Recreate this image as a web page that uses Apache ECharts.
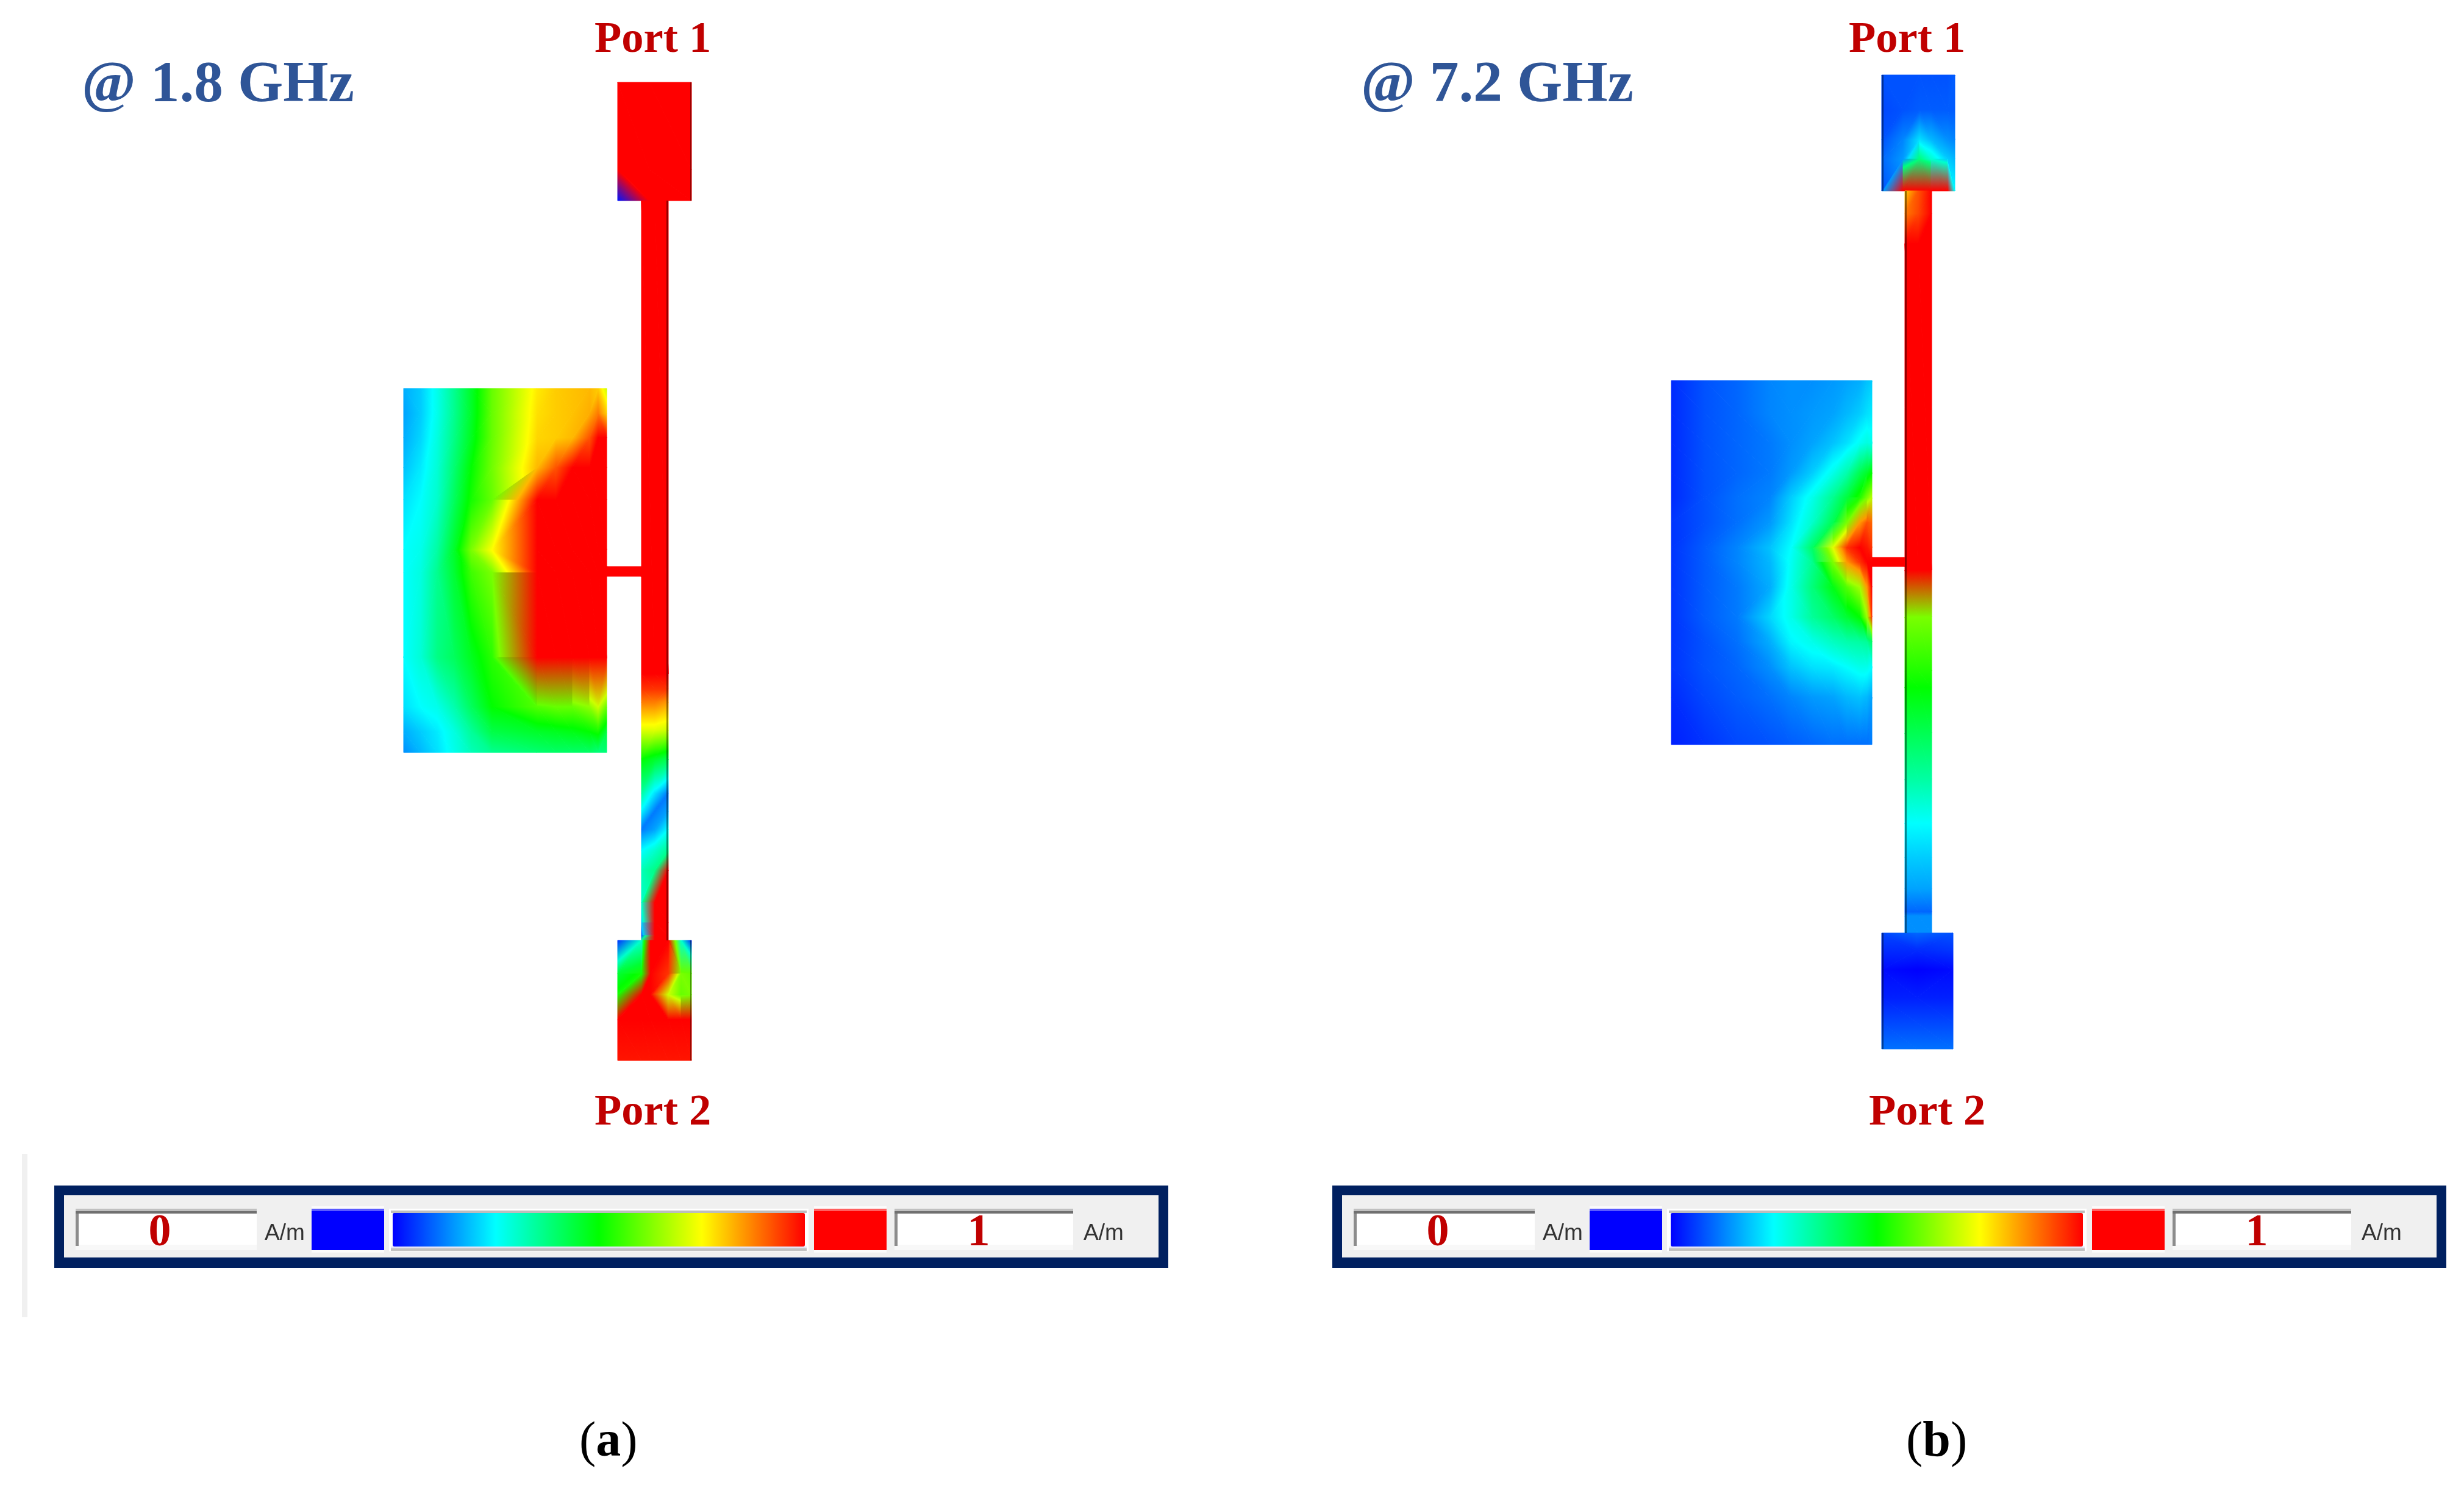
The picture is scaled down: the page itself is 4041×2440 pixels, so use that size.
<!DOCTYPE html>
<html>
<head>
<meta charset="utf-8">
<title>Surface current at 1.8 GHz and 7.2 GHz</title>
<script src="https://cdn.jsdelivr.net/npm/echarts@6/dist/echarts.min.js"></script>
<style>
    html, body { margin: 0; background: #fff; }
    #chart { width: 4041px; height: 2440px; }
</style>
</head>
<body>
<div id="chart"></div>
<script>
// colour scale of the solver, 0..1 A/m
const rampColors = ['#0000ff', '#00ffff', '#00ff00', '#ffff00', '#ff0000'];
const freqLabels = ['@ 1.8 GHz', '@ 7.2 GHz'];
const portLabels = ['Port 1', 'Port 2'];
const scaleLabels = ['0', '1'];
const unitLabel = 'A/m';

// field values read at mesh nodes, model x / y are along the layout
// ---- (a) 1.8 GHz
const padTopAX = [351, 403, 472];
const padTopAY = [0, 143, 194];
const padTopA = [
    [1, 1, 1],
    [1, 1, 1],
    [0.02, 1, 1]
];
const lineAX = [390, 412, 434];
const lineAY = [194, 970, 995, 1016, 1062, 1110, 1166, 1195, 1225, 1260, 1292, 1345, 1378, 1399, 1407];
const lineA = [
    [1, 1, 1],
    [1, 1, 1],
    [0.95, 0.95, 0.95],
    [0.88, 0.88, 0.85],
    [0.72, 0.72, 0.7],
    [0.5, 0.46, 0.42],
    [0.34, 0.22, 0.12],
    [0.24, 0.12, 0.16],
    [0.12, 0.16, 0.25],
    [0.25, 0.3, 0.36],
    [0.32, 0.37, 1],
    [0.3, 1, 1],
    [0.2, 1, 1],
    [0.08, 1, 1],
    [0.35, 1, 1]
];
const stubAX = [333, 390];
const stubAY = [794, 810];
const stubA = [[1, 1], [1, 1]];
const padBottomAX = [351, 390, 405, 434, 455, 472];
const padBottomAY = [1407, 1462, 1496, 1537, 1604];
const padBottomA = [
    [0.05, 0.3, 1, 1, 0.3, 0.05],
    [0.45, 0.52, 1, 0.95, 0.62, 0.6],
    [0.52, 1, 1, 0.7, 0.6, 0.62],
    [1, 1, 1, 1, 1, 1],
    [0.98, 0.98, 0.98, 0.98, 0.98, 0.98]
];
const patchAX = [0, 28, 55, 83, 111, 145, 219, 250, 277, 305, 319, 333];
const patchAY = [502, 543, 583, 632, 685, 767, 804, 943, 1024, 1065, 1099];
const patchA = [
    [0.17, 0.2, 0.27, 0.36, 0.46, 0.6, 0.77, 0.8, 0.81, 0.82, 0.8, 0.7],
    [0.16, 0.2, 0.27, 0.36, 0.46, 0.6, 0.78, 0.8, 0.81, 0.83, 0.88, 0.8],
    [0.17, 0.21, 0.28, 0.37, 0.47, 0.6, 0.79, 0.8, 0.82, 0.92, 1, 1],
    [0.19, 0.23, 0.29, 0.39, 0.5, 0.61, 0.82, 0.92, 1, 1, 1, 1],
    [0.22, 0.25, 0.3, 0.41, 0.52, 0.6, 1, 1, 1, 1, 1, 1],
    [0.25, 0.27, 0.34, 0.46, 0.62, 0.75, 1, 1, 1, 1, 1, 1],
    [0.25, 0.28, 0.36, 0.45, 0.56, 0.62, 1, 1, 1, 1, 1, 1],
    [0.25, 0.29, 0.37, 0.41, 0.47, 0.54, 1, 1, 1, 1, 1, 1],
    [0.22, 0.25, 0.27, 0.33, 0.41, 0.5, 0.58, 0.6, 0.6, 0.64, 0.7, 0.6],
    [0.17, 0.2, 0.23, 0.28, 0.35, 0.43, 0.46, 0.47, 0.48, 0.5, 0.52, 0.44],
    [0.14, 0.18, 0.22, 0.27, 0.32, 0.36, 0.39, 0.4, 0.4, 0.4, 0.38, 0.38]
];

// ---- (b) 7.2 GHz
const padTopBX = [345, 380, 407, 426, 453, 465];
const padTopBY = [0, 57, 106, 138, 190];
const padTopB = [
    [0.08, 0.08, 0.08, 0.08, 0.08, 0.09],
    [0.07, 0.08, 0.09, 0.09, 0.09, 0.09],
    [0.08, 0.13, 0.22, 0.18, 0.14, 0.13],
    [0.1, 0.15, 0.38, 0.3, 0.2, 0.18],
    [0.08, 1, 1, 1, 1, 0.25]
];
const lineBX = [383, 405, 427];
const lineBY = [190, 227, 277, 812, 889, 977, 1004, 1079, 1155, 1227, 1283, 1334, 1372, 1379, 1407];
const lineB = [
    [0.8, 0.92, 1],
    [0.88, 0.93, 1],
    [1, 1, 1],
    [1, 1, 1],
    [0.62, 0.62, 0.62],
    [0.53, 0.53, 0.53],
    [0.5, 0.5, 0.5],
    [0.42, 0.42, 0.42],
    [0.34, 0.34, 0.34],
    [0.25, 0.25, 0.25],
    [0.2, 0.2, 0.2],
    [0.16, 0.16, 0.16],
    [0.1, 0.1, 0.1],
    [0.14, 0.14, 0.14],
    [0.14, 0.14, 0.14]
];
const stubBX = [329, 383];
const stubBY = [791, 806];
const stubB = [[1, 1], [1, 1]];
const padBottomBX = [345, 403, 462];
const padBottomBY = [1407, 1436, 1467, 1513, 1554, 1597];
const padBottomB = [
    [0.07, 0.1, 0.08],
    [0.04, 0.04, 0.05],
    [0.01, 0, 0.01],
    [0.03, 0.03, 0.03],
    [0.07, 0.07, 0.07],
    [0.11, 0.11, 0.11]
];
const patchBX = [0, 55, 108, 162, 196, 231, 265, 288, 309, 321, 329];
const patchBY = [501, 555, 603, 652, 693, 734, 775, 799, 840, 889, 930, 971, 1020, 1098];
const patchB = [
    [0.04, 0.08, 0.1, 0.13, 0.14, 0.14, 0.15, 0.16, 0.17, 0.19, 0.2],
    [0.04, 0.08, 0.1, 0.13, 0.14, 0.15, 0.16, 0.18, 0.2, 0.22, 0.23],
    [0.04, 0.08, 0.1, 0.12, 0.14, 0.16, 0.19, 0.22, 0.26, 0.28, 0.27],
    [0.04, 0.08, 0.1, 0.12, 0.15, 0.2, 0.27, 0.33, 0.42, 0.46, 0.5],
    [0.04, 0.08, 0.11, 0.13, 0.2, 0.27, 0.36, 0.44, 0.53, 0.62, 0.68],
    [0.05, 0.08, 0.11, 0.15, 0.22, 0.3, 0.42, 0.62, 0.85, 0.92, 0.9],
    [0.05, 0.09, 0.13, 0.19, 0.25, 0.4, 0.72, 0.95, 1, 0.98, 0.95],
    [0.05, 0.09, 0.13, 0.18, 0.26, 0.36, 0.62, 0.85, 0.95, 1, 1],
    [0.05, 0.09, 0.12, 0.17, 0.27, 0.38, 0.48, 0.58, 0.66, 0.85, 1],
    [0.05, 0.09, 0.12, 0.21, 0.27, 0.35, 0.4, 0.45, 0.5, 0.65, 0.95],
    [0.05, 0.08, 0.11, 0.17, 0.24, 0.27, 0.31, 0.33, 0.34, 0.35, 0.4],
    [0.05, 0.08, 0.1, 0.14, 0.19, 0.22, 0.23, 0.25, 0.27, 0.27, 0.25],
    [0.04, 0.07, 0.09, 0.11, 0.13, 0.15, 0.16, 0.18, 0.19, 0.18, 0.16],
    [0.03, 0.05, 0.07, 0.08, 0.09, 0.1, 0.11, 0.11, 0.11, 0.11, 0.12]
];

// dark shaded side of the strip: x0, x1, y0, y1
const edgesA = [[431, 434, 194, 1407], [470, 472, 0, 194], [470, 472, 1407, 1604]];
const edgesB = [[383, 386, 190, 1407], [345, 348, 0, 190], [345, 348, 1407, 1597]];

const serif = '"Liberation Serif"';

function rgbOf(hex) {
    return [1, 3, 5].map(function (i) { return parseInt(hex.substr(i, 2), 16); });
}
const rampRgb = rampColors.map(rgbOf);

function colorAt(v) {
    const t = Math.min(Math.max(v, 0), 1) * (rampRgb.length - 1);
    const i = Math.min(Math.floor(t), rampRgb.length - 2);
    const c = rampRgb[i].map(function (a, k) { return Math.round(a + (rampRgb[i + 1][k] - a) * (t - i)); });
    return 'rgb(' + c.join(',') + ')';
}

// paint one triangle: the value is linear over it, so a linear gradient along its slope is exact.
// steep triangles (range over mixStep) blend straight between corner colours, as the solver plot does
function triangle(p, mixStep) {
    const s = p.slice().sort(function (a, b) { return a[2] - b[2]; });
    const lo = s[0][2], mid = s[1][2], hi = s[2][2];
    let fill = colorAt(lo);
    if (hi - lo > 1e-4) {
        const ax = p[1][0] - p[0][0], ay = p[1][1] - p[0][1], bx = p[2][0] - p[0][0], by = p[2][1] - p[0][1];
        const dv1 = p[1][2] - p[0][2], dv2 = p[2][2] - p[0][2];
        const det = ax * by - ay * bx;
        const gx = (dv1 * by - dv2 * ay) / det, gy = (dv2 * ax - dv1 * bx) / det;
        const k = (hi - lo) / (gx * gx + gy * gy);
        let stops = [{ offset: 0, color: colorAt(lo) }];
        if (hi - lo > mixStep) {
            stops.push({ offset: (mid - lo) / (hi - lo), color: colorAt(mid) });
        } else {
            for (let r = 1; r < rampRgb.length - 1; r++) {
                const knot = r / (rampRgb.length - 1);
                if (knot > lo && knot < hi) stops.push({ offset: (knot - lo) / (hi - lo), color: colorAt(knot) });
            }
        }
        stops.push({ offset: 1, color: colorAt(hi) });
        fill = new echarts.graphic.LinearGradient(s[0][0], s[0][1], s[0][0] + gx * k, s[0][1] + gy * k, stops, true);
    }
    return {
        type: 'polygon',
        shape: { points: p.map(function (q) { return [q[0], q[1]]; }) },
        style: { fill: fill, stroke: fill, lineWidth: 1 },
        silent: true
    };
}

function cellRenderer(mixStep) {
    return function (params, api) {
        const tl = api.coord([api.value(0), api.value(2)]);
        const br = api.coord([api.value(1), api.value(3)]);
        const a = [tl[0], tl[1], api.value(4)];
        const b = [br[0], tl[1], api.value(5)];
        const c = [tl[0], br[1], api.value(6)];
        const d = [br[0], br[1], api.value(7)];
        // split along the diagonal whose ends are closest in value
        const tris = Math.abs(a[2] - d[2]) <= Math.abs(b[2] - c[2]) ? [[a, b, d], [a, d, c]] : [[a, b, c], [b, d, c]];
        return {
            type: 'group',
            children: tris.map(function (t) { return triangle(t, mixStep); })
        };
    };
}

function fieldSeries(panel, xs, ys, vals, mixStep) {
    const cells = [];
    for (let j = 0; j < ys.length - 1; j++) {
        for (let i = 0; i < xs.length - 1; i++) {
            cells.push([xs[i], xs[i + 1], ys[j], ys[j + 1], vals[j][i], vals[j][i + 1], vals[j + 1][i], vals[j + 1][i + 1]]);
        }
    }
    return {
        type: 'custom', xAxisIndex: panel, yAxisIndex: panel, data: cells, renderItem: cellRenderer(mixStep),
        encode: { x: [0, 1], y: [2, 3] }, clip: false, silent: true, animation: false
    };
}

function edgeSeries(panel, edges) {
    return {
        type: 'custom', xAxisIndex: panel, yAxisIndex: panel, data: edges, silent: true, animation: false,
        encode: { x: [0, 1], y: [2, 3] }, clip: false,
        renderItem: function (params, api) {
            const p0 = api.coord([api.value(0), api.value(2)]);
            const p1 = api.coord([api.value(1), api.value(3)]);
            return {
                type: 'rect',
                shape: { x: p0[0], y: p0[1], width: p1[0] - p0[0], height: p1[1] - p0[1] },
                style: { fill: 'rgba(0,0,0,0.42)' }
            };
        }
    };
}

function box(x, y, w, h, fill) {
    return { type: 'rect', shape: { x: x, y: y, width: w, height: h }, style: { fill: fill }, silent: true };
}

function label(text, x, baseline, size, fill, align, family, weight) {
    return {
        type: 'text', silent: true, z: 10,
        style: {
            text: text, x: x, y: baseline - size * 0.27, fill: fill, align: align, verticalAlign: 'middle',
            font: (weight || 'bold') + ' ' + size + 'px ' + (family || serif)
        }
    };
}

// "(a)" with a bold letter between plain brackets
function caption(letter, x) {
    return {
        type: 'text', silent: true,
        style: {
            x: x, y: 2366, verticalAlign: 'middle', align: 'left', fill: '#000000',
            text: '{p|(}{l|' + letter + '}{p|)}',
            rich: {
                p: { font: '82px ' + serif, fill: '#000000' },
                l: { font: 'bold 82px ' + serif, fill: '#000000' }
            }
        }
    };
}

// one colour legend strip, dx moves it to the second panel
function legendParts(dx) {
    const field = function (x, w) {
        return [
            box(x + dx, 1982, w, 68, '#f8f8f8'),
            box(x + dx, 1982, w, 4, '#c0c0c0'),
            box(x + dx, 1986, w, 4, '#707070'),
            box(x + 5 + dx, 1990, w - 5, 51, '#ffffff'),
            box(x + dx, 1990, 5, 53, '#8c8c8c')
        ];
    };
    return [
        box(89 + dx, 1944, 1827, 135, '#002060'),
        box(105 + dx, 1960, 1795, 102, '#f0f0f0')
    ].concat(field(124, 297), field(1467, 293), [
        box(511 + dx, 1978, 119, 76, '#fbfbfb'),
        box(511 + dx, 1985, 119, 65, '#0000ff'),
        box(511 + dx, 1982, 119, 4, '#5a5aff'),
        box(1335 + dx, 1978, 119, 76, '#fbfbfb'),
        box(1335 + dx, 1985, 119, 65, '#ff0000'),
        box(1335 + dx, 1982, 119, 4, '#ff6060'),
        box(638 + dx, 1982, 688, 70, '#ffffff'),
        box(641 + dx, 1985, 682, 4, '#bdbdbd'),
        box(641 + dx, 2044, 682, 3, '#e4e4f4'),
        box(641 + dx, 2047, 682, 4, '#c0c0c0'),
        label(scaleLabels[0], 262 + dx, 2043, 74, '#c00000', 'center'),
        label(scaleLabels[1], 1605 + dx, 2043, 74, '#c00000', 'center'),
        label(unitLabel, 434 + dx, 2033, 37, '#333333', 'left', '"Liberation Sans"', 'normal'),
        label(unitLabel, 1777 + dx, 2033, 37, '#333333', 'left', '"Liberation Sans"', 'normal')
    ]);
}

function colourBar(dx) {
    return {
        type: 'continuous', min: 0, max: 1, seriesIndex: [], show: true, calculable: false, hoverLink: false,
        orient: 'horizontal', left: 644 + dx, top: 1989, itemWidth: 55, itemHeight: 676, padding: 0,
        text: null, showLabel: false, inRange: { color: rampColors }
    };
}

const myChart = echarts.init(document.getElementById('chart'), null, { renderer: 'canvas' });

const option = {
    animation: false,
    backgroundColor: '#ffffff',
    grid: [
        { left: 662, top: 135, width: 472, height: 1604 },
        { left: 2741, top: 123, width: 465, height: 1597 }
    ],
    xAxis: [
        { type: 'value', gridIndex: 0, min: 0, max: 472, show: false },
        { type: 'value', gridIndex: 1, min: 0, max: 465, show: false }
    ],
    yAxis: [
        { type: 'value', gridIndex: 0, min: 0, max: 1604, inverse: true, show: false },
        { type: 'value', gridIndex: 1, min: 0, max: 1597, inverse: true, show: false }
    ],
    visualMap: [colourBar(0), colourBar(2096)],
    series: [
        fieldSeries(0, padTopAX, padTopAY, padTopA, 0),
        fieldSeries(0, lineAX, lineAY, lineA, 0.3),
        fieldSeries(0, stubAX, stubAY, stubA, 0),
        fieldSeries(0, padBottomAX, padBottomAY, padBottomA, 0.2),
        fieldSeries(0, patchAX, patchAY, patchA, 0.3),
        edgeSeries(0, edgesA),
        fieldSeries(1, padTopBX, padTopBY, padTopB, 0.2),
        fieldSeries(1, lineBX, lineBY, lineB, 0.2),
        fieldSeries(1, stubBX, stubBY, stubB, 0),
        fieldSeries(1, padBottomBX, padBottomBY, padBottomB, 0.2),
        fieldSeries(1, patchBX, patchBY, patchB, 0.12),
        edgeSeries(1, edgesB)
    ],
    graphic: [
        box(36, 1892, 9, 268, '#f0f0f0'),
        label(freqLabels[0], 134, 167, 95.5, '#2f5597', 'left'),
        label(freqLabels[1], 2232, 167, 95.5, '#2f5597', 'left'),
        label(portLabels[0], 975, 86, 72.5, '#c00000', 'left'),
        label(portLabels[1], 975, 1845, 72.5, '#c00000', 'left'),
        label(portLabels[0], 3032, 86, 72.5, '#c00000', 'left'),
        label(portLabels[1], 3065, 1845, 72.5, '#c00000', 'left'),
        caption('a', 950),
        caption('b', 3126)
    ].concat(legendParts(0), legendParts(2096))
};

myChart.setOption(option);
</script>
</body>
</html>
